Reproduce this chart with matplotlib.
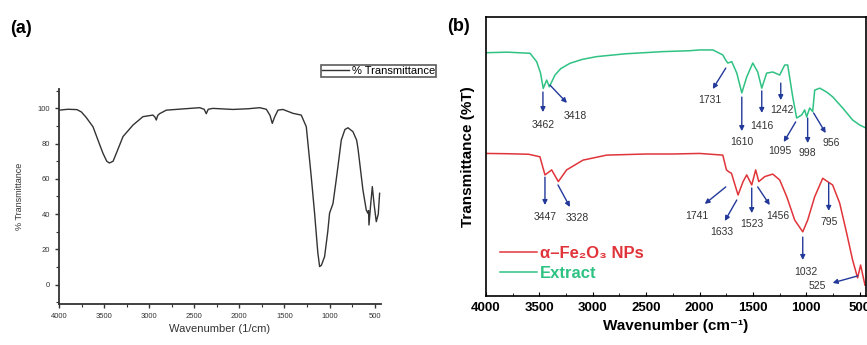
import matplotlib
matplotlib.use("Agg")
import matplotlib.pyplot as plt
from matplotlib.ticker import MultipleLocator, NullFormatter

plt.rcParams['font.family'] = ['Liberation Sans', 'DejaVu Sans']

# ---- panel (a): FTIR of the nanoparticles ----
a_wn = [4000, 3900, 3800, 3752, 3700, 3623, 3560, 3512, 3470, 3440, 3400, 3364,
        3290, 3180, 3069, 2958, 2935, 2921, 2905, 2884, 2810, 2600, 2440, 2390,
        2367, 2345, 2293, 2071, 1900, 1775, 1701, 1660, 1635, 1610, 1572, 1517,
        1406, 1314, 1258, 1203, 1166, 1130, 1110, 1090, 1055, 1020, 1000, 962,
        930, 907, 870, 830, 796, 741, 700, 685, 630, 593, 575, 568, 563, 545,
        526, 505, 482, 460, 445]
a_trans = [99, 99.5, 99.3, 98, 95, 89.6, 81, 74.5, 70, 69, 70, 74.5,
           84, 90.5, 95.3, 96.2, 95, 93.4, 96, 97, 99, 99.8, 100.4, 99.5,
           97, 99.5, 100, 99.4, 99.8, 100.4, 99.5, 96, 91.5, 95, 99, 99.4,
           97.2, 96.2, 89.6, 61.2, 40.5, 18, 10.2, 11, 15.9, 30, 40.5, 46,
           58, 67, 82, 88, 89, 86.8, 82, 77.3, 53.7, 42.3, 40.5, 42, 33.8, 45,
           55.6, 45, 35.7, 40, 51.8]

# ---- panel (b): extract (green) and alpha-Fe2O3 NPs (red), offset traces ----
ext_wn = [4000, 3800, 3588, 3526, 3490, 3464, 3432, 3407, 3354, 3300, 3214, 3100,
          2964, 2700, 2343, 2100, 1997, 1875, 1782, 1754, 1735, 1698, 1651, 1604,
          1558, 1501, 1455, 1417, 1371, 1314, 1249, 1202, 1174, 1127, 1090, 1043,
          1015, 996, 968, 940, 921, 874, 809, 753, 659, 566, 500, 440]
ext_trans = [87.2, 87.4, 87, 84, 80, 74.4, 77.4, 75, 79.2, 81.5, 83.4, 84.8,
             85.8, 86.8, 87.6, 87.9, 88.2, 88.2, 86.4, 84.5, 83.5, 84, 79.9, 72.8,
             78.5, 83.5, 80.3, 74.5, 79.9, 80.3, 79.2, 82.8, 82.8, 71.4, 63.8, 64.9,
             66.7, 64.2, 67.4, 66.1, 73.8, 74.5, 73.1, 71.4, 67.4, 63.1, 61.3, 60.2]

np_wn = [4000, 3800, 3600, 3495, 3448, 3385, 3323, 3245, 3092, 2870, 2500, 2250,
         2000, 1782, 1748, 1725, 1701, 1639, 1592, 1558, 1511, 1474, 1445, 1389,
         1314, 1249, 1183, 1108, 1033, 987, 921, 846, 800, 753, 687, 622, 566,
         519, 491, 450]
np_trans = [51.1, 51.0, 50.8, 49.9, 43.4, 45.2, 41, 45.2, 48.7, 50.5, 50.9, 50.9,
            51.1, 50.5, 45.2, 44.5, 44, 36.2, 41, 43.4, 39.8, 45.2, 41, 42.8,
            43.7, 41.6, 35.6, 27.2, 23.0, 27.2, 35.6, 42.2, 41, 39.8, 33.3, 22.6, 12.9,
            6.5, 11.1, 3.9]

ext_peaks = ['3462', '3418', '1731', '1610', '1416', '1242', '1095', '998', '956']
ext_tail = [(3467, 73.1), (3401, 75.6), (1754, 81.7), (1604, 71.3), (1417, 73.5),
            (1239, 76.3), (1099, 62.4), (987, 63.8), (931, 65.6)]
ext_head = [(3467, 65.9), (3242, 69.2), (1876, 74.2), (1604, 59.1), (1417, 65.6),
            (1239, 70.2), (1211, 55.2), (987, 54.8), (818, 58.4)]
ext_text = [(3467, 61.3), (3167, 64.5), (1904, 70.2), (1604, 55.2), (1417, 60.9),
            (1230, 66.7), (1249, 52.0), (987, 51.3), (762, 54.8)]

np_peaks = ['3447', '3328', '1741', '1633', '1523', '1456', '795', '1032', '525']
np_tail = [(3448, 42.6), (3326, 39.8), (1754, 39.1), (1651, 34.4), (1511, 38.7),
           (1455, 39.1), (790, 40.5), (1033, 21.1), (519, 7.2)]
np_head = [(3448, 32.6), (3214, 31.9), (1951, 33.0), (1763, 26.9), (1511, 29.7),
           (1342, 32.6), (790, 30.5), (1033, 12.9), (753, 4.7)]
np_text = [(3448, 28.3), (3148, 28.0), (2025, 28.7), (1792, 22.9), (1511, 25.8),
           (1267, 28.7), (790, 26.5), (1005, 8.6), (893, 3.6)]

GREEN = '#2fc283'
RED = '#e0343a'
ARROW = '#23399a'

fig = plt.figure(figsize=(8.67, 3.45), dpi=100)

# panel (a)
ax1 = fig.add_axes([0.068, 0.119, 0.371, 0.623])
ax1.plot(a_wn, a_trans, color='#333333', lw=1.0, label='% Transmittance')
ax1.set_xlim(4000, 434)
ax1.set_ylim(-11, 111)
ax1.spines['top'].set_visible(False)
ax1.spines['right'].set_visible(False)
for s in ('left', 'bottom'):
    ax1.spines[s].set_linewidth(1.3)
    ax1.spines[s].set_color('#333333')
ax1.xaxis.set_major_locator(MultipleLocator(500))
ax1.xaxis.set_minor_locator(MultipleLocator(250))
ax1.yaxis.set_major_locator(MultipleLocator(20))
ax1.yaxis.set_minor_locator(MultipleLocator(10))
ax1.set_yticks([0, 20, 40, 60, 80, 100])
ax1.tick_params(which='both', direction='out', labelsize=5.5, colors='#333333')
ax1.tick_params(which='major', length=3, width=1)
ax1.tick_params(which='minor', length=2, width=0.8)
ax1.set_xlabel('Wavenumber (1/cm)', fontsize=8, color='#333333', labelpad=3)
ax1.set_ylabel('% Transmittance', fontsize=6.5, color='#333333', labelpad=10)
leg = ax1.legend(loc='upper left', bbox_to_anchor=(321 / 867, 1 - 65 / 345),
                 bbox_transform=fig.transFigure, fontsize=8, frameon=True,
                 fancybox=False, edgecolor='#333333', handlelength=2.4,
                 borderpad=0.1, handletextpad=0.3, borderaxespad=0)
leg.get_frame().set_linewidth(1.2)
fig.text(0.012, 0.918, '(a)', fontsize=13, fontweight='bold', va='center')

# panel (b)
ax2 = fig.add_axes([0.5606, 0.142, 0.4383, 0.8087])
ax2.plot(np_wn, np_trans, color=RED, lw=1.1, label='α–Fe₂O₃ NPs')
ax2.plot(ext_wn, ext_trans, color=GREEN, lw=1.1, label='Extract')
ax2.set_xlim(4000, 440)
ax2.set_ylim(0, 100)
ax2.xaxis.set_major_locator(MultipleLocator(500))
ax2.xaxis.set_minor_locator(MultipleLocator(250))
ax2.yaxis.set_major_formatter(NullFormatter())
ax2.set_yticks([])
ax2.tick_params(axis='x', which='both', direction='in', top=False)
ax2.tick_params(axis='x', which='major', length=3, labelsize=9.5, pad=4)
ax2.tick_params(axis='x', which='minor', length=2)
for lab in ax2.get_xticklabels():
    lab.set_fontweight('bold')
for s in ax2.spines.values():
    s.set_linewidth(1.2)
ax2.set_xlabel('Wavenumber (cm⁻¹)', fontsize=11, fontweight='bold', labelpad=4)
ax2.set_ylabel('Transmittance (%T)', fontsize=11, fontweight='bold', labelpad=8)

for labels, tails, heads, texts in [(ext_peaks, ext_tail, ext_head, ext_text),
                                    (np_peaks, np_tail, np_head, np_text)]:
    for lab, t, h, p in zip(labels, tails, heads, texts):
        ax2.annotate('', xy=h, xytext=t,
                     arrowprops=dict(arrowstyle='-|>', color=ARROW, lw=1.0,
                                     mutation_scale=7, shrinkA=0, shrinkB=0))
        ax2.text(p[0], p[1], lab, fontsize=7.5, color='#333333',
                 ha='center', va='center')

leg2 = ax2.legend(loc='lower left', bbox_to_anchor=(0.02, 0.03), frameon=False,
                  fontsize=12, handlelength=2.2, handletextpad=0.2,
                  labelspacing=0.3, borderaxespad=0)
for txt, col in zip(leg2.get_texts(), [RED, GREEN]):
    txt.set_color(col)
    txt.set_fontweight('bold')
fig.text(0.516, 0.922, '(b)', fontsize=13, fontweight='bold', va='center')

fig.savefig('out.png', dpi=100)
